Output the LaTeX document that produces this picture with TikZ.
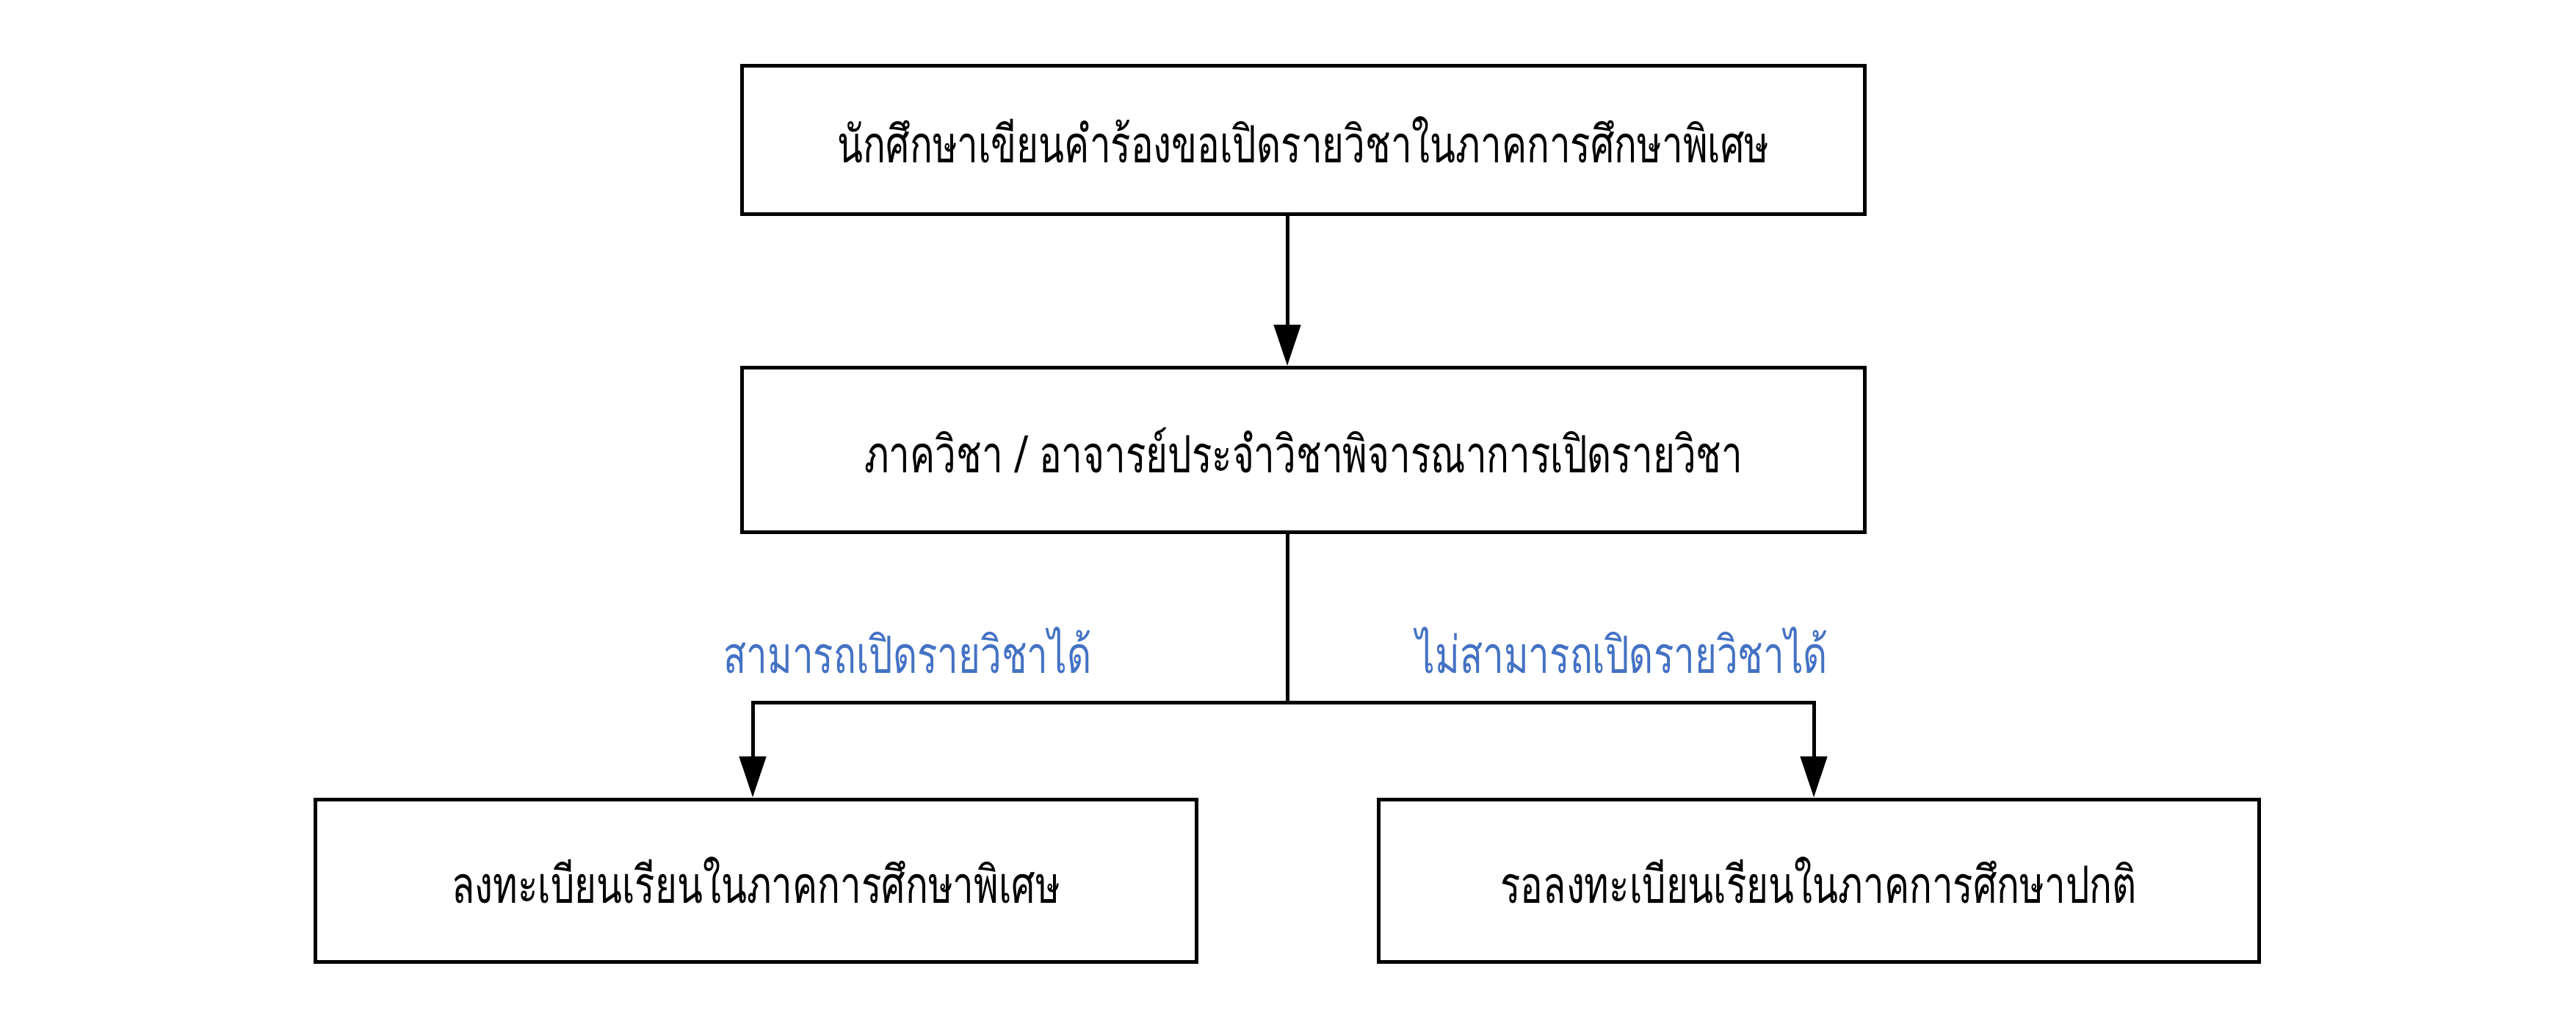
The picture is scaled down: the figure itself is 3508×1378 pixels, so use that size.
\documentclass[tikz,border=0pt]{standalone}
\usepackage{fontspec}
\newfontfamily\thaifont[Script=Thai, FakeStretch=0.73]{Loma}
\usetikzlibrary{arrows.meta}
\definecolor{lblblue}{HTML}{4472C4}
\tikzset{
  box/.style={draw=black, line width=1pt, inner sep=0pt, font=\thaifont\fontsize{14}{16}\selectfont},
  conn/.style={draw=black, line width=1pt},
  arr/.style={conn, -{Triangle[length=11.2pt, width=7.2pt]}},
  lbl/.style={inner sep=0pt, text=lblblue, font=\thaifont\fontsize{14}{16}\selectfont}
}
\begin{document}
\begin{tikzpicture}[x=0.2pt, y=-0.2pt]
\useasboundingbox (0,0) rectangle (3508,1378);
\node[box, minimum width=305.6pt, minimum height=40.4pt] (top) at (1775,190) {นักศึกษาเขียนคำร้องขอเปิดรายวิชาในภาคการศึกษาพิเศษ};
\node[box, minimum width=305.6pt, minimum height=44.8pt] (mid) at (1775,612.5) {ภาควิชา / อาจารย์ประจำวิชาพิจารณาการเปิดรายวิชา};
\node[box, minimum width=239.8pt, minimum height=44.2pt] (bl) at (1029.5,1198.5) {ลงทะเบียนเรียนในภาคการศึกษาพิเศษ};
\node[box, minimum width=239.8pt, minimum height=44.2pt] (br) at (2476.5,1198.5) {รอลงทะเบียนเรียนในภาคการศึกษาปกติ};
\coordinate (ax) at (1753,0);
\coordinate (split) at (1753,956);
\coordinate (lx) at (1025,0);
\coordinate (rx) at (2470,0);
\node[lbl] (yes) at (1236,885) {สามารถเปิดรายวิชาได้};
\node[lbl] (no) at (2209,885) {ไม่สามารถเปิดรายวิชาได้};
\draw[arr] (top.south -| ax) -- (mid.north -| ax);
\draw[conn] (mid.south -| ax) -- (split);
\draw[arr] (split) -| (bl.north -| lx);
\draw[arr] (split) -| (br.north -| rx);
\end{tikzpicture}
\end{document}
